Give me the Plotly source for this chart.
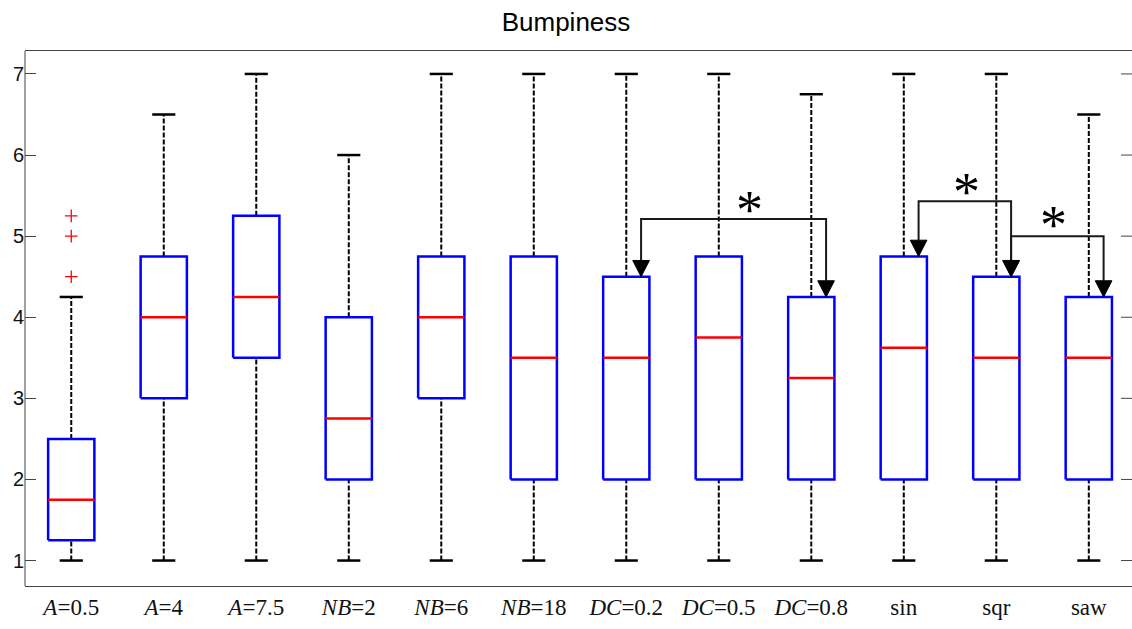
import plotly.graph_objects as go

# Box-plot summary statistics per condition
categories = ["<i>A</i>=0.5", "<i>A</i>=4", "<i>A</i>=7.5", "<i>NB</i>=2", "<i>NB</i>=6",
              "<i>NB</i>=18", "<i>DC</i>=0.2", "<i>DC</i>=0.5", "<i>DC</i>=0.8",
              "sin", "sqr", "saw"]
whisker_low = [1, 1, 1, 1, 1, 1, 1, 1, 1, 1, 1, 1]
q1 = [1.25, 3, 3.5, 2, 3, 2, 2, 2, 2, 2, 2, 2]
median = [1.75, 4, 4.25, 2.75, 4, 3.5, 3.5, 3.75, 3.25, 3.625, 3.5, 3.5]
q3 = [2.5, 4.75, 5.25, 4, 4.75, 4.75, 4.5, 4.75, 4.25, 4.75, 4.5, 4.25]
whisker_high = [4.25, 6.5, 7, 6, 7, 7, 7, 7, 6.75, 7, 7, 6.5]
outlier_group = [1, 1, 1]
outlier_values = [4.5, 5, 5.25]

# Significance brackets: (from group, to group, bracket height, star x, star y)
brackets = [
    (7, 9, 5.21, 8.33, 5.325),
    (10, 11, 5.43, 10.68, 5.546),
    (11, 12, 5.0, 11.62, 5.14),
]

y_ticks = [1, 2, 3, 4, 5, 6, 7]

BOX_HALF = 0.25
CAP_HALF = 0.125
ARROW_DX = 0.16
HEAD_HALF = 0.09
HEAD_LEN = 0.2
PLOT_W = 1107
TICK_LEN = 11

fig = go.Figure()

positions = list(range(1, len(categories) + 1))

# whiskers (dashed) and caps
wx, wy, cx, cy = [], [], [], []
for p, lo, a, b, hi in zip(positions, whisker_low, q1, q3, whisker_high):
    wx += [p, p, None, p, p, None]
    wy += [lo, a, None, b, hi, None]
    cx += [p - CAP_HALF, p + CAP_HALF, None, p - CAP_HALF, p + CAP_HALF, None]
    cy += [lo, lo, None, hi, hi, None]
fig.add_trace(go.Scatter(x=wx, y=wy, mode="lines",
                         line=dict(color="black", width=2, dash="5px,2px"),
                         hoverinfo="skip"))
fig.add_trace(go.Scatter(x=cx, y=cy, mode="lines",
                         line=dict(color="black", width=2.5), hoverinfo="skip"))

# boxes
bx, by = [], []
for p, a, b in zip(positions, q1, q3):
    bx += [p - BOX_HALF, p + BOX_HALF, p + BOX_HALF, p - BOX_HALF, p - BOX_HALF, None]
    by += [a, a, b, b, a, None]
fig.add_trace(go.Scatter(x=bx, y=by, mode="lines",
                         line=dict(color="#0000ff", width=2.5), hoverinfo="skip"))

# medians
mx, my = [], []
for p, m in zip(positions, median):
    mx += [p - BOX_HALF, p + BOX_HALF, None]
    my += [m, m, None]
fig.add_trace(go.Scatter(x=mx, y=my, mode="lines",
                         line=dict(color="#ff0000", width=2.5), hoverinfo="skip"))

# outliers
fig.add_trace(go.Scatter(x=outlier_group, y=outlier_values, mode="markers",
                         marker=dict(symbol="cross-thin", size=9,
                                     line=dict(color="#ff0000", width=1.3)),
                         hoverinfo="skip"))

# significance brackets with arrow heads
lx, ly, hx, hy = [], [], [], []
for g1, g2, h, sx, sy in brackets:
    x1 = g1 + ARROW_DX
    x2 = g2 + ARROW_DX
    t1 = q3[g1 - 1]
    t2 = q3[g2 - 1]
    lx += [x1, x1, x2, x2, None]
    ly += [t1 + HEAD_LEN, h, h, t2 + HEAD_LEN, None]
    for xx, tt in ((x1, t1), (x2, t2)):
        hx += [xx - HEAD_HALF, xx + HEAD_HALF, xx, xx - HEAD_HALF, None]
        hy += [tt + HEAD_LEN, tt + HEAD_LEN, tt, tt + HEAD_LEN, None]
    fig.add_annotation(x=sx, y=sy, text="*", showarrow=False,
                       font=dict(family="Liberation Serif", size=54, color="black"),
                       xanchor="center", yanchor="middle")
fig.add_trace(go.Scatter(x=lx, y=ly, mode="lines",
                         line=dict(color="#1a1a1a", width=2), hoverinfo="skip"))
fig.add_trace(go.Scatter(x=hx, y=hy, mode="lines", fill="toself",
                         fillcolor="black", line=dict(color="black", width=1),
                         hoverinfo="skip"))

# left frame edge and right-hand tick marks (the right edge sits off-canvas)
fig.add_shape(type="line", xref="paper", yref="paper", x0=0, x1=0, y0=0, y1=1,
              line=dict(color="#444", width=1), layer="above")
for v in y_ticks:
    fig.add_shape(type="line", xref="paper", yref="y",
                  x0=1 - TICK_LEN / PLOT_W, x1=1, y0=v, y1=v,
                  line=dict(color="#444", width=1), layer="above")

fig.update_layout(
    width=1132, height=629,
    margin=dict(l=25, r=0, t=51, b=43),
    paper_bgcolor="white", plot_bgcolor="white",
    showlegend=False,
    title=dict(text="Bumpiness", x=0.5, xanchor="center", y=0.965, yanchor="middle",
               font=dict(family="Arial, Liberation Sans", size=26, color="black")),
)
fig.update_xaxes(
    range=[0.5, 12.467], tickmode="array", tickvals=positions, ticktext=categories,
    showgrid=False, zeroline=False, ticks="", showline=True, mirror=True,
    linecolor="#444", linewidth=1,
    tickfont=dict(family="Liberation Serif, Times New Roman", size=23, color="#111"),
)
fig.update_yaxes(
    range=[0.686, 7.283], tickmode="array", tickvals=y_ticks,
    ticktext=[str(v) for v in y_ticks],
    showgrid=False, zeroline=False, ticks="inside", ticklen=TICK_LEN, tickwidth=1,
    tickcolor="#444", showline=False, mirror=False,
    tickfont=dict(family="Arial, Liberation Sans", size=20, color="#111"),
)

fig.write_html("out.html")
